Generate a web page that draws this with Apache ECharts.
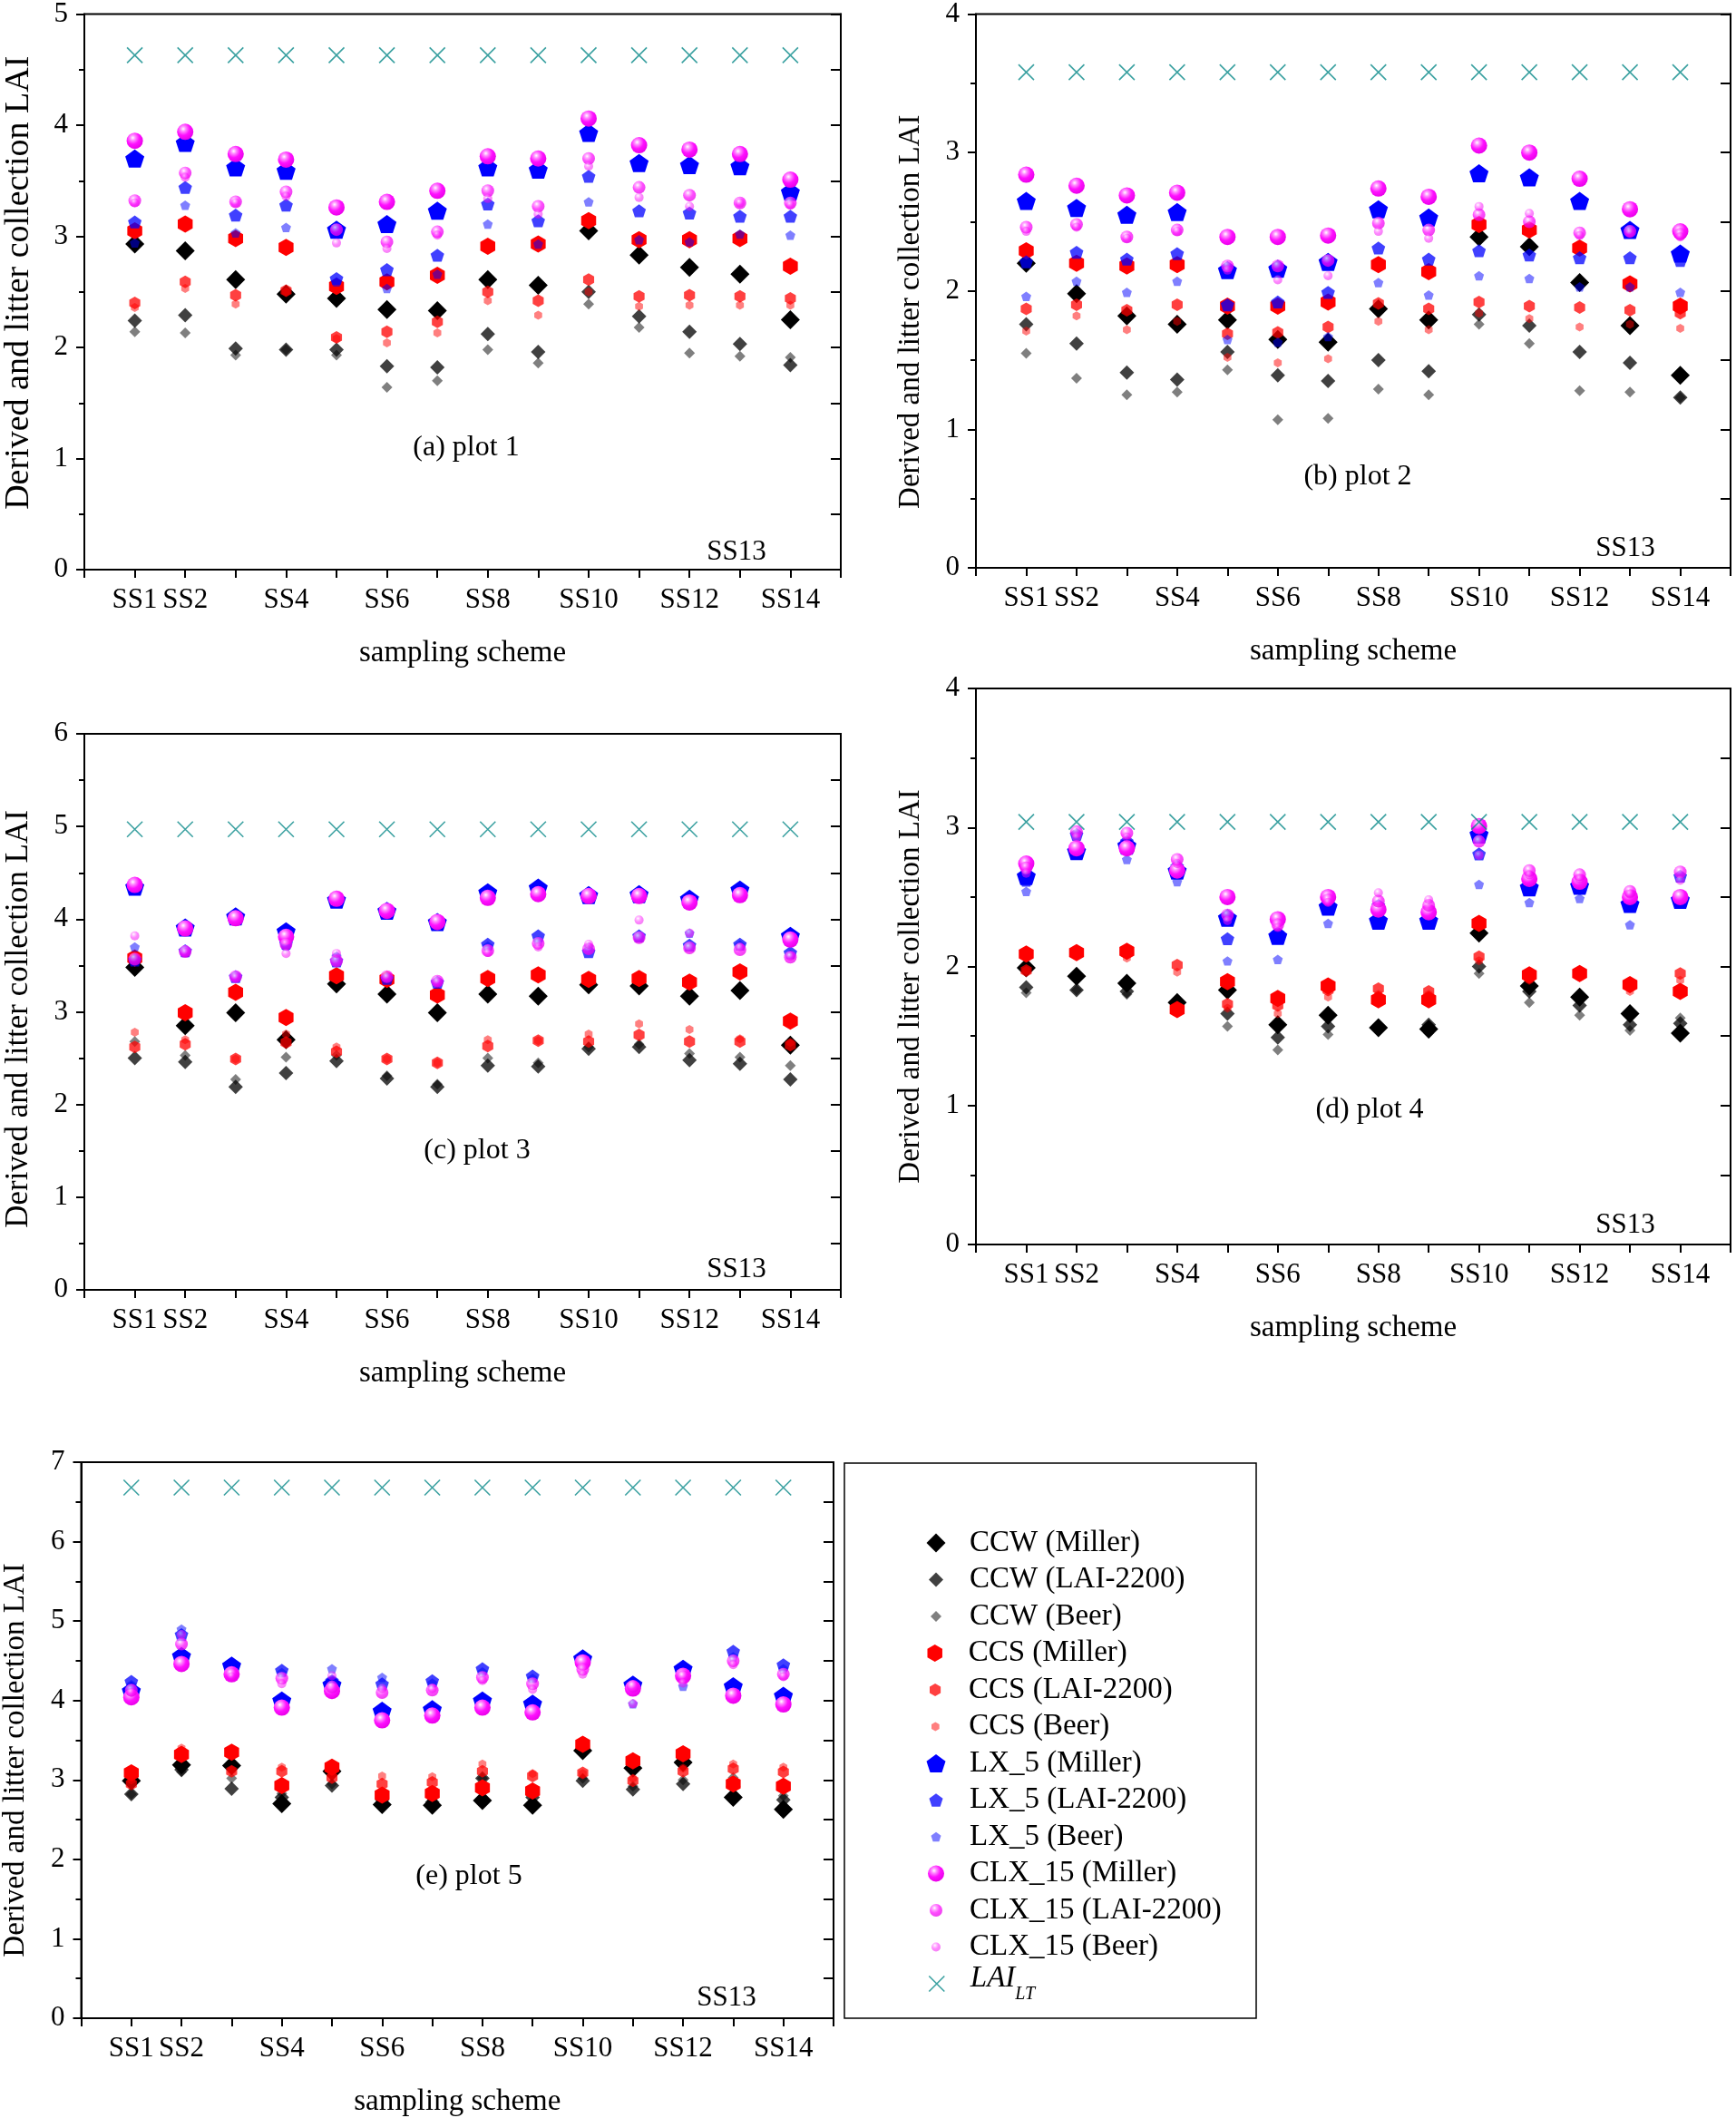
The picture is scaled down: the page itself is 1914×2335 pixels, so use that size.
<!DOCTYPE html>
<html><head><meta charset="utf-8">
<script src="https://cdn.jsdelivr.net/npm/echarts@6/dist/echarts.min.js"></script>
<style>html,body{margin:0;padding:0;background:#fff}#c{width:1914px;height:2335px}</style>
</head><body><div id="c"></div><script>
// ---------- categories / tick labels ----------
const categories = ['SS1','SS2','SS3','SS4','SS5','SS6','SS7','SS8','SS9','SS10','SS11','SS12','SS13','SS14'];
const categoryPositions = [1,2,3,4,5,6,7,8,9,10,11,12,13,14];
const shownTickLabels = ['SS1','SS2','SS4','SS6','SS8','SS10','SS12','SS14'];
const panelTitles = ['(a) plot 1','(b) plot 2','(c) plot 3','(d) plot 4','(e) plot 5'];
const yMaxes = [5,4,6,4,7];

// ---------- plot 1 ----------
const p1_CCW_Miller = [2.93,2.87,2.61,2.48,2.44,2.34,2.33,2.61,2.56,3.05,2.83,2.72,2.66,2.25];
const p1_CCW_LAI    = [2.24,2.29,1.99,1.98,1.98,1.83,1.82,2.12,1.96,2.50,2.28,2.14,2.03,1.84];
const p1_CCW_Beer   = [2.14,2.13,1.93,1.98,1.93,1.64,1.70,1.98,1.86,2.39,2.18,1.95,1.92,1.91];
const p1_CCS_Miller = [3.05,3.11,2.98,2.90,2.55,2.59,2.65,2.91,2.93,3.14,2.97,2.97,2.98,2.73];
const p1_CCS_LAI    = [2.40,2.59,2.47,2.51,2.09,2.14,2.23,2.50,2.42,2.61,2.46,2.47,2.46,2.44];
const p1_CCS_Beer   = [2.36,2.53,2.39,2.50,2.08,2.04,2.13,2.42,2.29,2.50,2.37,2.38,2.38,2.38];
const p1_LX_Miller  = [3.70,3.84,3.62,3.59,3.06,3.11,3.23,3.62,3.60,3.93,3.66,3.64,3.63,3.40];
const p1_LX_LAI     = [3.13,3.44,3.19,3.28,2.62,2.70,2.83,3.29,3.14,3.54,3.23,3.21,3.18,3.18];
const p1_LX_Beer    = [2.94,3.28,3.03,3.08,2.59,2.53,2.66,3.11,2.93,3.31,2.97,2.95,3.02,3.01];
const p1_CLX_Miller = [3.86,3.94,3.74,3.69,3.26,3.31,3.41,3.72,3.70,4.06,3.82,3.78,3.74,3.51];
const p1_CLX_LAI    = [3.32,3.57,3.31,3.40,3.06,2.95,3.04,3.41,3.27,3.70,3.44,3.37,3.30,3.30];
const p1_CLX_Beer   = [3.30,3.53,3.30,3.36,2.94,2.89,3.01,3.34,3.20,3.63,3.35,3.27,3.30,3.28];
const p1_LAI_LT     = [4.63,4.63,4.63,4.63,4.63,4.63,4.63,4.63,4.63,4.63,4.63,4.63,4.63,4.63];

// ---------- plot 2 ----------
const p2_CCW_Miller = [2.20,1.98,1.82,1.76,1.79,1.65,1.63,1.87,1.79,2.39,2.32,2.06,1.75,1.39];
const p2_CCW_LAI    = [1.76,1.62,1.41,1.36,1.56,1.39,1.35,1.50,1.42,1.83,1.75,1.56,1.48,1.23];
const p2_CCW_Beer   = [1.55,1.37,1.25,1.27,1.43,1.07,1.08,1.29,1.25,1.76,1.62,1.28,1.27,1.23];
const p2_CCS_Miller = [2.29,2.20,2.18,2.19,1.89,1.89,1.92,2.19,2.14,2.48,2.44,2.31,2.05,1.89];
const p2_CCS_LAI    = [1.87,1.90,1.86,1.90,1.69,1.70,1.74,1.91,1.87,1.92,1.89,1.88,1.86,1.84];
const p2_CCS_Beer   = [1.71,1.82,1.72,1.78,1.52,1.48,1.51,1.78,1.72,1.84,1.80,1.74,1.76,1.73];
const p2_LX_Miller  = [2.65,2.60,2.55,2.57,2.15,2.16,2.21,2.59,2.53,2.85,2.82,2.65,2.44,2.27];
const p2_LX_LAI     = [2.21,2.28,2.23,2.27,1.90,1.92,1.99,2.31,2.23,2.29,2.26,2.24,2.24,2.22];
const p2_LX_Beer    = [1.96,2.07,1.99,2.07,1.65,1.63,1.67,2.06,1.97,2.11,2.09,2.03,2.03,1.99];
const p2_CLX_Miller = [2.84,2.76,2.69,2.71,2.39,2.39,2.40,2.74,2.68,3.05,3.00,2.81,2.59,2.43];
const p2_CLX_LAI    = [2.46,2.48,2.39,2.44,2.18,2.18,2.22,2.49,2.44,2.55,2.50,2.42,2.43,2.41];
const p2_CLX_Beer   = [2.43,2.46,2.38,2.43,2.15,2.08,2.11,2.43,2.38,2.61,2.56,2.40,2.42,2.39];
const p2_LAI_LT     = [3.58,3.58,3.58,3.58,3.58,3.58,3.58,3.58,3.58,3.58,3.58,3.58,3.58,3.58];

// ---------- plot 3 ----------
const p3_CCW_Miller = [3.48,2.85,2.99,2.70,3.30,3.19,2.99,3.19,3.17,3.29,3.28,3.17,3.23,2.64];
const p3_CCW_LAI    = [2.50,2.46,2.19,2.34,2.47,2.28,2.19,2.42,2.41,2.60,2.62,2.48,2.44,2.27];
const p3_CCW_Beer   = [2.68,2.53,2.27,2.51,2.53,2.31,2.22,2.50,2.45,2.62,2.65,2.55,2.51,2.42];
const p3_CCS_Miller = [3.58,2.99,3.21,2.94,3.39,3.35,3.18,3.36,3.40,3.35,3.36,3.32,3.43,2.90];
const p3_CCS_LAI    = [2.62,2.65,2.49,2.67,2.57,2.49,2.45,2.63,2.69,2.68,2.75,2.68,2.68,2.64];
const p3_CCS_Beer   = [2.78,2.70,2.49,2.76,2.62,2.49,2.45,2.70,2.69,2.76,2.87,2.81,2.71,2.67];
const p3_LX_Miller  = [4.35,3.91,4.03,3.87,4.21,4.09,3.97,4.29,4.34,4.26,4.27,4.22,4.32,3.82];
const p3_LX_LAI     = [3.56,3.66,3.38,3.74,3.55,3.36,3.32,3.73,3.82,3.65,3.82,3.72,3.73,3.64];
const p3_LX_Beer    = [3.70,3.64,3.37,3.71,3.60,3.37,3.32,3.71,3.76,3.70,3.80,3.85,3.72,3.62];
const p3_CLX_Miller = [4.37,3.90,4.01,3.81,4.22,4.09,3.97,4.23,4.27,4.25,4.25,4.18,4.26,3.78];
const p3_CLX_LAI    = [3.57,3.65,3.38,3.73,3.55,3.38,3.33,3.66,3.74,3.68,3.80,3.69,3.67,3.59];
const p3_CLX_Beer   = [3.82,3.64,3.37,3.63,3.63,3.37,3.32,3.64,3.70,3.73,3.99,3.85,3.70,3.60];
const p3_LAI_LT     = [4.97,4.97,4.97,4.97,4.97,4.97,4.97,4.97,4.97,4.97,4.97,4.97,4.97,4.97];

// ---------- plot 4 ----------
const p4_CCW_Miller = [1.99,1.93,1.88,1.74,1.83,1.58,1.65,1.56,1.55,2.24,1.86,1.78,1.66,1.52];
const p4_CCW_LAI    = [1.85,1.83,1.82,1.72,1.66,1.49,1.57,1.56,1.58,2.00,1.82,1.72,1.58,1.59];
const p4_CCW_Beer   = [1.81,1.83,1.80,1.70,1.57,1.40,1.51,1.55,1.52,1.95,1.74,1.65,1.54,1.63];
const p4_CCS_Miller = [2.09,2.10,2.11,1.69,1.89,1.77,1.86,1.76,1.76,2.31,1.94,1.95,1.87,1.82];
const p4_CCS_LAI    = [1.97,2.10,2.10,2.01,1.73,1.72,1.83,1.84,1.82,2.07,1.92,1.95,1.88,1.95];
const p4_CCS_Beer   = [1.97,2.09,2.06,1.96,1.70,1.66,1.78,1.80,1.80,2.04,1.90,1.92,1.82,1.90];
const p4_LX_Miller  = [2.65,2.83,2.87,2.69,2.35,2.22,2.43,2.33,2.33,2.95,2.57,2.58,2.45,2.48];
const p4_LX_LAI     = [2.62,2.95,2.90,2.72,2.20,2.24,2.45,2.44,2.36,2.81,2.60,2.62,2.50,2.65];
const p4_LX_Beer    = [2.54,2.84,2.77,2.61,2.04,2.05,2.31,2.33,2.31,2.59,2.46,2.49,2.30,2.48];
const p4_CLX_Miller = [2.74,2.85,2.85,2.69,2.50,2.34,2.50,2.41,2.39,3.01,2.63,2.61,2.50,2.50];
const p4_CLX_LAI    = [2.71,2.97,2.96,2.77,2.37,2.30,2.48,2.47,2.44,2.90,2.69,2.66,2.54,2.68];
const p4_CLX_Beer   = [2.67,2.93,2.93,2.74,2.33,2.28,2.46,2.53,2.48,2.80,2.66,2.63,2.52,2.62];
const p4_LAI_LT     = [3.04,3.04,3.04,3.04,3.04,3.04,3.04,3.04,3.04,3.04,3.04,3.04,3.04,3.04];

// ---------- plot 5 ----------
const p5_CCW_Miller = [2.99,3.19,3.18,2.70,3.11,2.69,2.68,2.74,2.68,3.37,3.15,3.22,2.78,2.63];
const p5_CCW_LAI    = [2.82,3.13,2.89,2.78,2.93,2.75,2.72,3.02,2.78,2.99,2.88,2.95,2.92,2.75];
const p5_CCW_Beer   = [2.82,3.10,3.02,2.83,2.95,2.78,2.75,3.02,2.80,3.02,2.92,3.00,3.03,2.80];
const p5_CCS_Miller = [3.09,3.32,3.35,2.93,3.16,2.81,2.83,2.90,2.86,3.45,3.24,3.33,2.95,2.92];
const p5_CCS_LAI    = [2.95,3.35,3.11,3.11,3.03,2.95,2.97,3.11,3.05,3.09,2.99,3.11,3.14,3.10];
const p5_CCS_Beer   = [3.00,3.40,3.12,3.16,3.06,3.05,3.04,3.20,3.08,3.08,3.02,3.15,3.20,3.16];
const p5_LX_Miller  = [4.12,4.56,4.44,4.00,4.20,3.87,3.89,4.00,3.96,4.53,4.20,4.40,4.18,4.06];
const p5_LX_LAI     = [4.24,4.83,4.40,4.38,4.25,4.21,4.25,4.40,4.31,4.50,4.22,4.35,4.62,4.45];
const p5_LX_Beer    = [4.20,4.90,4.38,4.35,4.40,4.29,4.22,4.36,4.28,4.45,3.96,4.18,4.55,4.40];
const p5_CLX_Miller = [4.04,4.46,4.33,3.91,4.12,3.75,3.81,3.91,3.85,4.48,4.15,4.31,4.06,3.95];
const p5_CLX_LAI    = [4.13,4.71,4.33,4.28,4.17,4.10,4.13,4.29,4.21,4.39,4.18,4.30,4.50,4.33];
const p5_CLX_Beer   = [4.10,4.83,4.30,4.21,4.31,4.15,4.15,4.25,4.14,4.33,3.96,4.22,4.45,4.30];
const p5_LAI_LT     = [6.68,6.68,6.68,6.68,6.68,6.68,6.68,6.68,6.68,6.68,6.68,6.68,6.68,6.68];

const panelValues = [
 [p1_CCW_Miller,p1_CCW_LAI,p1_CCW_Beer,p1_CCS_Miller,p1_CCS_LAI,p1_CCS_Beer,p1_LX_Miller,p1_LX_LAI,p1_LX_Beer,p1_CLX_Miller,p1_CLX_LAI,p1_CLX_Beer,p1_LAI_LT],
 [p2_CCW_Miller,p2_CCW_LAI,p2_CCW_Beer,p2_CCS_Miller,p2_CCS_LAI,p2_CCS_Beer,p2_LX_Miller,p2_LX_LAI,p2_LX_Beer,p2_CLX_Miller,p2_CLX_LAI,p2_CLX_Beer,p2_LAI_LT],
 [p3_CCW_Miller,p3_CCW_LAI,p3_CCW_Beer,p3_CCS_Miller,p3_CCS_LAI,p3_CCS_Beer,p3_LX_Miller,p3_LX_LAI,p3_LX_Beer,p3_CLX_Miller,p3_CLX_LAI,p3_CLX_Beer,p3_LAI_LT],
 [p4_CCW_Miller,p4_CCW_LAI,p4_CCW_Beer,p4_CCS_Miller,p4_CCS_LAI,p4_CCS_Beer,p4_LX_Miller,p4_LX_LAI,p4_LX_Beer,p4_CLX_Miller,p4_CLX_LAI,p4_CLX_Beer,p4_LAI_LT],
 [p5_CCW_Miller,p5_CCW_LAI,p5_CCW_Beer,p5_CCS_Miller,p5_CCS_LAI,p5_CCS_Beer,p5_LX_Miller,p5_LX_LAI,p5_LX_Beer,p5_CLX_Miller,p5_CLX_LAI,p5_CLX_Beer,p5_LAI_LT]
];

const seriesNames = ['CCW (Miller)','CCW (LAI-2200)','CCW (Beer)','CCS (Miller)','CCS (LAI-2200)','CCS (Beer)',
  'LX_5 (Miller)','LX_5 (LAI-2200)','LX_5 (Beer)','CLX_15 (Miller)','CLX_15 (LAI-2200)','CLX_15 (Beer)','LAI_LT'];

// ---------- styles ----------
const FONT = 'Liberation Serif';
const DIAMOND = 'path://M0,-1L1,0L0,1L-1,0Z';
const HEX = 'path://M0,-1L0.866,-0.5L0.866,0.5L0,1L-0.866,0.5L-0.866,-0.5Z';
const PENT = 'path://M0,-1L0.951,-0.309L0.588,0.809L-0.588,0.809L-0.951,-0.309Z';
const CROSS = 'path://M-1,-1L1,1M1,-1L-1,1';
const sphere = {type:'radial',x:0.38,y:0.32,r:0.72,colorStops:[
  {offset:0,color:'#ffffff'},{offset:0.22,color:'#ff8cff'},{offset:0.55,color:'#ff10ff'},{offset:1,color:'#e600e6'}]};
const opac = [1,0.75,0.5];
function styleFor(i){
  const g = Math.floor(i/3), m = i%3;
  if (i===12) return {symbol:CROSS,size:17,itemStyle:{color:'#008080',borderColor:'#0a8a8a',borderWidth:1.6}};
  if (g===0) return {symbol:DIAMOND,size:[21,16,12][m],itemStyle:{color:'#000000',opacity:opac[m]}};
  if (g===1) return {symbol:HEX,size:[19,14,10][m],itemStyle:{color:'#ff0000',opacity:opac[m]}};
  if (g===2) return {symbol:PENT,size:[21,15,11][m],itemStyle:{color:'#0000ff',opacity:opac[m]}};
  return {symbol:'circle',size:[18,14,10][m],itemStyle:{color:sphere,opacity:opac[m]}};
}

const grids = [
  {left:93,top:15,width:834,height:613},
  {left:1076,top:13,width:832,height:613},
  {left:93,top:809,width:834,height:613},
  {left:1076,top:759,width:832,height:613},
  {left:85,top:1612,width:834,height:613}
];
// y-axis title font size and vertical shift (positive = down) per panel
const yTitleSize = [38,33,35,33,33];
const yTitleShift = [-10,23,8,22,22];

const xAxes=[], yAxes=[], series=[];
grids.forEach((g,p)=>{
  xAxes.push({gridIndex:p,type:'value',min:0,max:15,interval:1,
    axisLine:{onZero:false,lineStyle:{color:'#000',width:2}},
    axisTick:{length:9,lineStyle:{color:'#000',width:2}},
    axisLabel:{fontFamily:FONT,fontSize:31,color:'#000',margin:18,
      formatter:v=>{const n='SS'+v;return shownTickLabels.includes(n)?n:'';}},
    splitLine:{show:false},
    name:'sampling scheme',nameLocation:'middle',nameGap:76,
    nameTextStyle:{fontFamily:FONT,fontSize:33,color:'#000'}});
  const s = yTitleShift[p];
  yAxes.push({gridIndex:p,type:'value',min:0,max:yMaxes[p],interval:1,position:'left',
    axisLine:{show:true,onZero:false,lineStyle:{color:'#000',width:2}},
    axisTick:{show:true,length:9,lineStyle:{color:'#000',width:2}},
    minorTick:{show:true,splitNumber:2,length:6,lineStyle:{color:'#000',width:2}},
    axisLabel:{fontFamily:FONT,fontSize:31,color:'#000',margin:18},
    splitLine:{show:false},
    name:'Derived and litter collection LAI',nameLocation:'middle',nameGap:56 - yTitleSize[p]/2 + 16,
    nameTextStyle:{fontFamily:FONT,fontSize:yTitleSize[p],color:'#000',
      padding: s>0 ? [0,2*s,0,0] : [0,0,0,-2*s]}});
  yAxes.push({gridIndex:p,type:'value',min:0,max:yMaxes[p],interval:0.5,position:'right',
    axisLine:{show:true,onZero:false,lineStyle:{color:'#000',width:2}},
    axisTick:{show:true,inside:true,length:11,lineStyle:{color:'#000',width:2}},
    axisLabel:{show:false},splitLine:{show:false}});
  panelValues[p].forEach((vals,i)=>{
    const st = styleFor(i);
    series.push({type:'scatter',name:seriesNames[i],xAxisIndex:p,yAxisIndex:2*p,
      symbol:st.symbol,symbolSize:st.size,symbolKeepAspect:true,itemStyle:st.itemStyle,
      emphasis:{disabled:true},
      data:vals.map((v,k)=>[categoryPositions[k],v])});
  });
});

// ---------- legends (one per row) ----------
const legends = seriesNames.map((nm,i)=>{
  const st = styleFor(i);
  const w = st.size, yc = 1701 + 40.5*i, xc = 1032;
  const lh = (i===12) ? 44 : 36;
  const lg = {data:[nm],left:xc - w/2,top:yc - lh/2,padding:0,itemWidth:w,itemHeight:w,selectedMode:false,
    textStyle:{fontFamily:FONT,fontSize:33,color:'#000',lineHeight:lh,padding:[0,0,0,1069-(xc+w/2)-5]}};
  if (i===12){
    lg.itemStyle={color:'#008080',borderColor:'#0a8a8a',borderWidth:1.6};
    lg.formatter = ()=>'{a|LAI}{b|LT}';
    lg.textStyle.rich = {
      a:{fontFamily:FONT,fontSize:33,fontStyle:'italic',color:'#000',lineHeight:44,verticalAlign:'top'},
      b:{fontFamily:FONT,fontSize:20,fontStyle:'italic',color:'#000',lineHeight:44,verticalAlign:'bottom'}};
  }
  return lg;
});

const titleCenters = [[514,494],[1497,526],[526,1269],[1510,1224],[517,2069]];
const ss13Centers = [[812,609],[1792,605],[812,1400],[1792,1351],[801,2203]];
const graphics = [];
panelTitles.forEach((t,p)=>{
  graphics.push({type:'text',x:titleCenters[p][0],y:titleCenters[p][1],
    style:{text:t,fontFamily:FONT,fontSize:32,fill:'#000',align:'center',verticalAlign:'middle'}});
  graphics.push({type:'text',x:ss13Centers[p][0],y:ss13Centers[p][1],
    style:{text:categories[12],fontFamily:FONT,fontSize:31,fill:'#000',align:'center',verticalAlign:'middle'}});
});
graphics.push({type:'rect',shape:{x:931,y:1613,width:454,height:612},
  style:{fill:'none',stroke:'#000',lineWidth:1.5}});

const chart = echarts.init(document.getElementById('c'),null,{renderer:'canvas'});
chart.setOption({
  animation:false,
  backgroundColor:'#fff',
  grid:grids.map(g=>Object.assign({show:true,borderColor:'#000',borderWidth:2,backgroundColor:'transparent'},g)),
  xAxis:xAxes, yAxis:yAxes, series:series, legend:legends, graphic:graphics
});
</script></body></html>
